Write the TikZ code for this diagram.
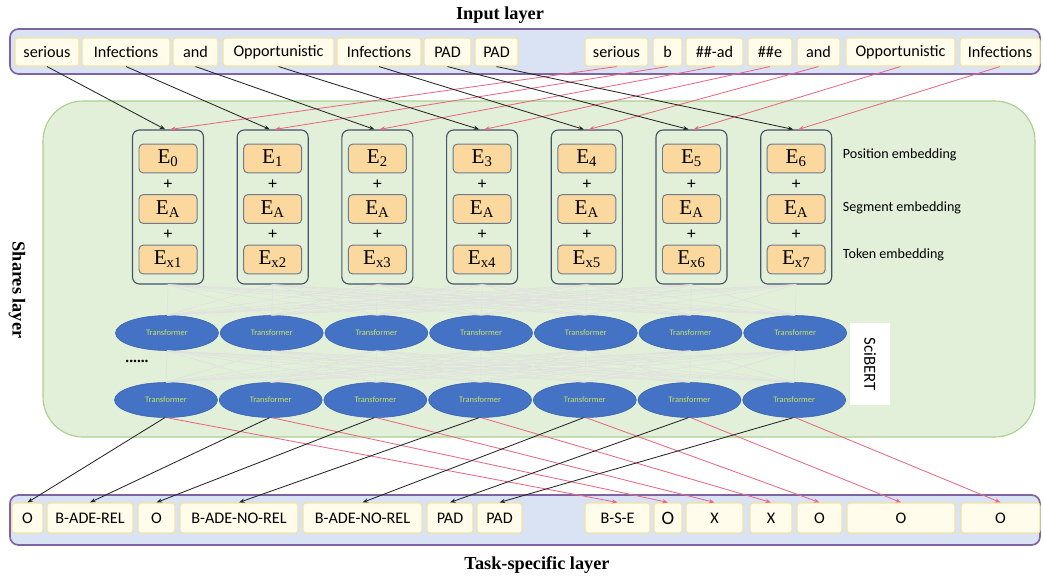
\documentclass[tikz,border=0pt]{standalone}
\usepackage{fontspec}
\setmainfont{Liberation Serif}
\setsansfont{Carlito}
\usetikzlibrary{arrows.meta, shapes.geometric}

\definecolor{bandfill}{HTML}{DAE3F3}
\definecolor{bandline}{HTML}{8064A2}
\definecolor{tokfill}{HTML}{FFFCEB}
\definecolor{tokline}{HTML}{F2E2A4}
\definecolor{panelfill}{HTML}{E2EFD9}
\definecolor{panelline}{HTML}{A9D18E}
\definecolor{embfill}{HTML}{FBD89E}
\definecolor{embline}{HTML}{6D7B8D}
\definecolor{colline}{HTML}{44546A}
\definecolor{trfill}{HTML}{4472C4}
\definecolor{trline}{HTML}{3A62AE}
\definecolor{trtext}{HTML}{C9E265}
\definecolor{redline}{HTML}{E66A86}

\begin{document}
\begin{tikzpicture}[x=0.025cm, y=-0.025cm,
    band/.style={draw=bandline, line width=1.2pt, fill=bandfill, rounded corners=6pt},
    token/.style={draw=tokline, line width=0.8pt, fill=tokfill, rounded corners=2pt, minimum height=0.7cm, inner sep=0pt, font=\sffamily\fontsize{11.5}{13}\selectfont},
    colbox/.style={draw=colline, line width=0.8pt, rounded corners=5pt, minimum width=1.775cm, minimum height=3.85cm},
    embbox/.style={draw=embline, line width=0.7pt, fill=embfill, rounded corners=3pt, minimum width=1.45cm, minimum height=0.72cm, inner sep=0pt, font=\fontsize{15}{16}\selectfont},
    plus/.style={inner sep=0pt, font=\bfseries\fontsize{12}{12}\selectfont},
    trans/.style={ellipse, draw=trline, fill=trfill, minimum width=2.575cm, minimum height=0.875cm, inner sep=0pt, text=trtext, font=\sffamily\fontsize{6}{7}\selectfont},
    mesh/.style={black!12, line width=0.4pt},
    blk/.style={black!85, line width=0.6pt, -{Stealth[length=4pt, width=3pt]}},
    red/.style={redline, line width=0.6pt, -{Stealth[length=4pt, width=3pt]}},
    title/.style={font=\bfseries\fontsize{13}{15}\selectfont},
    note/.style={anchor=west, font=\sffamily\fontsize{10}{12}\selectfont}]

    \useasboundingbox (0,0) rectangle (1043,578);

    % layers
    \draw[panelline, fill=panelfill, line width=0.8pt, rounded corners=1cm] (43,101) rectangle (1035,437);
    \draw[band] (10,29) rectangle (1040,74);
    \draw[band] (10,495) rectangle (1040,545);

    \node[title] (input) at (500,15) {Input layer};
    \node[title] (task) at (537,565) {Task-specific layer};
    \node[title, rotate=-90] (shares) at (17,290) {Shares layer};

    % input tokens
    \foreach \n/\x/\w/\t in {0/47/64/serious, 1/126/88/Infections, 2/195.5/45/and, 3/278.5/111/Opportunistic,
        4/379/84/Infections, 5/447.5/47/PAD, 6/496.5/43/PAD}
      \node[token, minimum width=\w*0.025cm] (in\n) at (\x,52) {\t};
    \foreach \n/\x/\w/\t in {0/616.5/63/serious, 1/667.5/29/b, 2/714.5/57/{\#\#-ad}, 3/770/44/{\#\#e},
        4/818.5/43/and, 5/900.5/109/Opportunistic, 6/1000/80/Infections}
      \node[token, minimum width=\w*0.025cm] (sub\n) at (\x,52) {\t};

    % output tags
    \foreach \n/\x/\w/\t in {0/27.5/31/O, 1/90/86/B-ADE-REL, 2/156.5/37/O, 3/239/118/B-ADE-NO-REL,
        4/362.5/119/B-ADE-NO-REL, 5/450/46/PAD, 6/499.5/45/PAD}
      \node[token, minimum width=\w*0.025cm, minimum height=0.75cm] (tag\n) at (\x,518) {\t};
    \foreach \n/\x/\w/\t in {0/617.5/65/B-S-E, 1/668/28/{\fontsize{13.5}{14}\selectfont O}, 2/714.5/57/X, 3/771/42/X,
        4/819.5/45/O, 5/901/108/O, 6/1000.5/79/O}
      \node[token, minimum width=\w*0.025cm, minimum height=0.75cm] (rel\n) at (\x,518) {\t};

    % embeddings and transformers
    \foreach \i in {0,...,6} {
      \pgfmathsetmacro\x{168+104.7*\i}
      \pgfmathtruncatemacro\k{\i+1}
      \node[colbox] (c\i) at (\x,207) {};
      \node[embbox] (pos\i) at (\x,158.5) {E\textsubscript{\i}};
      \node[embbox] (seg\i) at (\x,209) {E\textsubscript{A}};
      \node[embbox] (tok\i) at (\x,259.5) {E\textsubscript{x\k}};
      \node[plus] (plusa\i) at (\x,185) {+};
      \node[plus] (plusb\i) at (\x,235) {+};
      \node[trans] (a\i) at (\x-1,333) {Transformer};
      \node[trans] (b\i) at (\x-2,400) {Transformer};
    }

    \node[note] (posl) at (838,155) {Position embedding};
    \node[note] (segl) at (838,208) {Segment embedding};
    \node[note] (tokl) at (838,255) {Token embedding};

    \node[font=\bfseries\fontsize{11}{12}\selectfont] (dots) at (137,361) {......};
    \node[fill=white, minimum width=1cm, minimum height=2.05cm, inner sep=0pt] (scibert) at (870,364) {};
    \node[rotate=-90, font=\sffamily\fontsize{12}{14}\selectfont] at (scibert) {SciBERT};

    % faint full connections
    \foreach \i in {0,...,6}
      \foreach \j in {0,...,6} {
        \draw[mesh] (c\i.south) -- (a\j.north);
        \draw[mesh] (a\i.south) -- (b\j.north);
      }

    % input -> embeddings
    \foreach \i in {0,...,6} {
      \draw[blk] (in\i.south) -- ([xshift=-2pt]c\i.north);
      \draw[red] (sub\i.south) -- ([xshift=1.5pt]c\i.north);
    }

    % transformers -> tags
    \foreach \i in {0,...,6} {
      \draw[blk] ([xshift=-1pt]b\i.south) -- (tag\i.north);
      \draw[red] ([xshift=1pt]b\i.south) -- (rel\i.north);
    }
  \end{tikzpicture}
\end{document}
